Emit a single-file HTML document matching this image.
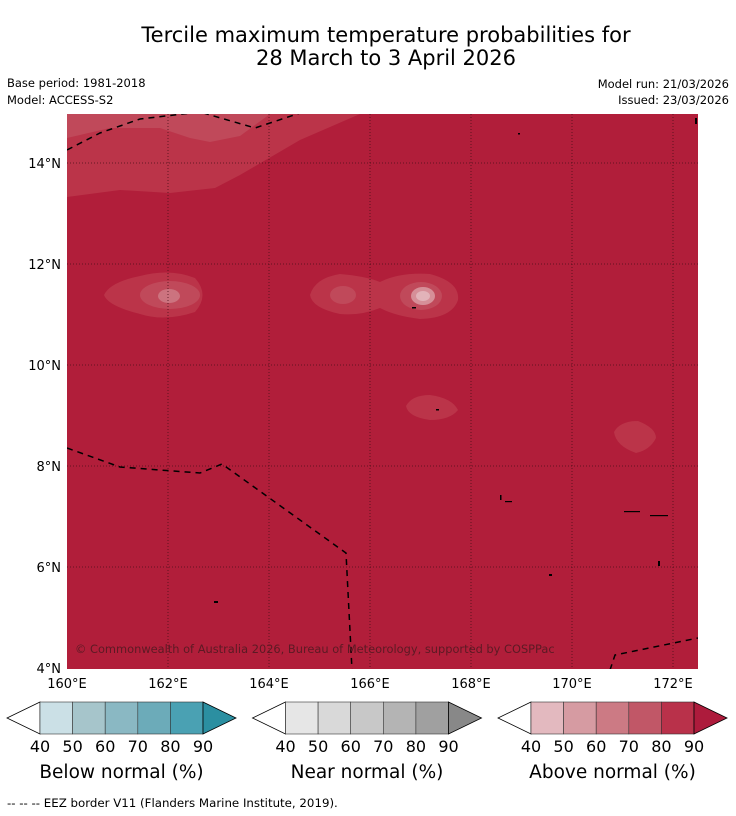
<!DOCTYPE html>
<html><head><meta charset="utf-8">
<style>
body{margin:0;background:#fff;font-family:"DejaVu Sans",sans-serif;}
svg{display:block}
</style></head>
<body>
<svg id="chart" width="736" height="816" viewBox="0 0 736 816" xmlns="http://www.w3.org/2000/svg" font-family="DejaVu Sans, sans-serif">
<rect width="736" height="816" fill="#fff"/>
<text x="386" y="42" font-size="21" text-anchor="middle">Tercile maximum temperature probabilities for</text>
<text x="386" y="65" font-size="21" text-anchor="middle">28 March to 3 April 2026</text>
<text x="7" y="87" font-size="11.5">Base period: 1981-2018</text>
<text x="7" y="104" font-size="11.5">Model: ACCESS-S2</text>
<text x="729" y="88" font-size="11.5" text-anchor="end">Model run: 21/03/2026</text>
<text x="729" y="104" font-size="11.5" text-anchor="end">Issued: 23/03/2026</text>
<defs><clipPath id="mc"><rect x="67" y="114" width="631" height="555"/></clipPath></defs>
<g id="map" clip-path="url(#mc)">
<rect x="67" y="114" width="631" height="555" fill="#b11e3a"/>
<path d="M67,114 L360,114 L300,140 L240,175 L215,188 L170,193 L120,190 L67,197 Z" fill="#bb3449"/>
<path d="M67,114 L67,138 L110,128 L160,128 L190,138 L210,142 L240,136 L270,114 Z" fill="#c0495a"/>
<g>
<path d="M104,295 Q110,282 140,276 Q170,268 195,278 Q210,295 195,312 Q165,322 140,314 Q108,306 104,295 Z" fill="#bb3449"/>
<ellipse cx="170" cy="295" rx="30" ry="14" fill="#c0495a"/>
<ellipse cx="169" cy="296" rx="11" ry="7" fill="#cc737f"/>
</g>
<g>
<path d="M310,295 Q315,278 340,274 Q365,276 380,282 Q400,272 430,274 Q460,282 458,300 Q452,318 420,319 Q395,316 380,308 Q360,316 340,314 Q312,308 310,295 Z" fill="#bb3449"/>
<ellipse cx="343" cy="295" rx="13" ry="9" fill="#c0495a"/>
<ellipse cx="421" cy="296" rx="21" ry="14" fill="#c0495a"/>
<ellipse cx="423" cy="296" rx="12" ry="9" fill="#d68f98"/>
<ellipse cx="423" cy="296" rx="7" ry="5" fill="#e2b3b9"/>
</g>
<path d="M406,406 Q412,395 430,395 Q452,398 458,410 Q450,420 430,420 Q408,417 406,406 Z" fill="#bb3449"/>
<path d="M614,432 Q620,421 638,421 Q656,428 656,438 Q650,450 636,453 Q616,446 614,432 Z" fill="#bb3449"/>
<g id="grid" stroke="#4a1018" stroke-width="0.8" stroke-dasharray="1,2"></g>
<g fill="none" stroke="#000" stroke-width="1.5" stroke-dasharray="6,5">
<polyline points="67,150 100,133 140,119 200,112 255,128 300,113 330,105"/>
<polyline points="67,448 120,467 200,473 222,464 346,553 352,670"/>
<polyline points="610,670 615,655 698,638"/>
</g>
<g fill="#000">
<rect x="412" y="307" width="4" height="1.5"/><rect x="436" y="409" width="3" height="1.5"/>
<rect x="518" y="133" width="2" height="1.5"/><rect x="214" y="601" width="4" height="2"/>
<rect x="624" y="511" width="16" height="1.2"/><rect x="650" y="515" width="18" height="1.2"/>
<rect x="500" y="495" width="1.5" height="5"/><rect x="505" y="501" width="7" height="1.2"/>
<rect x="549" y="574" width="3" height="2"/><rect x="658" y="561" width="2" height="5"/>
<rect x="695" y="118" width="2" height="6"/>
</g>
<text x="75" y="653" font-size="11.4" fill="#5c1a24">© Commonwealth of Australia 2026, Bureau of Meteorology, supported by COSPPac</text>
</g>
<g id="axes"></g>
<g id="cbars"></g>
<text x="7" y="807" font-size="11.8">--  --  -- EEZ border V11 (Flanders Marine Institute, 2019).</text>
</svg>
<script>
const lonTicks=[160,162,164,166,168,170,172];
const latTicks=[4,6,8,10,12,14];
const levelLabels=[40,50,60,70,80,90];
const belowColors=["#cbe0e6","#a6c5cb","#8ab8c3","#6cabb9","#4aa1b3","#2b8fa1"];
const nearColors=["#e6e6e6","#d9d9d9","#c8c8c8","#b4b4b4","#a0a0a0","#888888"];
const aboveColors=["#e3b9bf","#d69ba2","#cc7a84","#c15767","#b9314a","#ad1b3c"];
const cbarTitles=["Below normal (%)","Near normal (%)","Above normal (%)"];
const NS="http://www.w3.org/2000/svg";
const xs=lon=>67+(lon-160)*50.5;
const ys=lat=>668-(lat-4)*50.5;
function mk(tag,attrs,parent){const e=document.createElementNS(NS,tag);for(const k in attrs)e.setAttribute(k,attrs[k]);parent.appendChild(e);return e;}
const grid=document.getElementById('grid');
lonTicks.slice(1).forEach(l=>{const e=mk('line',{x1:xs(l),x2:xs(l),y1:114,y2:669},grid);

});
latTicks.slice(1).forEach(l=>{const e=mk('line',{x1:67,x2:698,y1:ys(l),y2:ys(l)},grid);

});
const axes=document.getElementById('axes');
lonTicks.forEach(l=>{const t=mk('text',{x:xs(l),y:688,'font-size':13,'text-anchor':'middle'},axes);t.textContent=l+'°E';

});
latTicks.forEach(l=>{const t=mk('text',{x:61,y:ys(l)+5,'font-size':13,'text-anchor':'end'},axes);t.textContent=l+'°N';

});
const cb=document.getElementById('cbars');
[belowColors,nearColors,aboveColors].forEach((cols,i)=>{
  const ox=i*245.5, x0=40+ox, w=32.6, y0=702, h=32;
  const g=mk('g',{},cb);
  
  
  mk('polygon',{points:`${x0},${y0} ${7+ox},${y0+h/2} ${x0},${y0+h}`,fill:'#fff',stroke:'#000','stroke-width':0.8},g);
  for(let k=0;k<5;k++){const r=mk('rect',{x:x0+k*w,y:y0,width:w,height:h,fill:cols[k],stroke:'#333','stroke-width':0.6},g);
    
    }
  const xe=x0+5*w;
  mk('polygon',{points:`${xe},${y0} ${xe+33},${y0+h/2} ${xe},${y0+h}`,fill:cols[5],stroke:'#000','stroke-width':0.8},g);
  levelLabels.forEach((v,k)=>{const t=mk('text',{x:x0+k*w,y:752,'font-size':16,'text-anchor':'middle'},g);t.textContent=v;
    
    });
  const tt=mk('text',{x:x0+2.5*w,y:778,'font-size':18.5,'text-anchor':'middle'},g);tt.textContent=cbarTitles[i];
  
  
});
</script>
</body></html>
